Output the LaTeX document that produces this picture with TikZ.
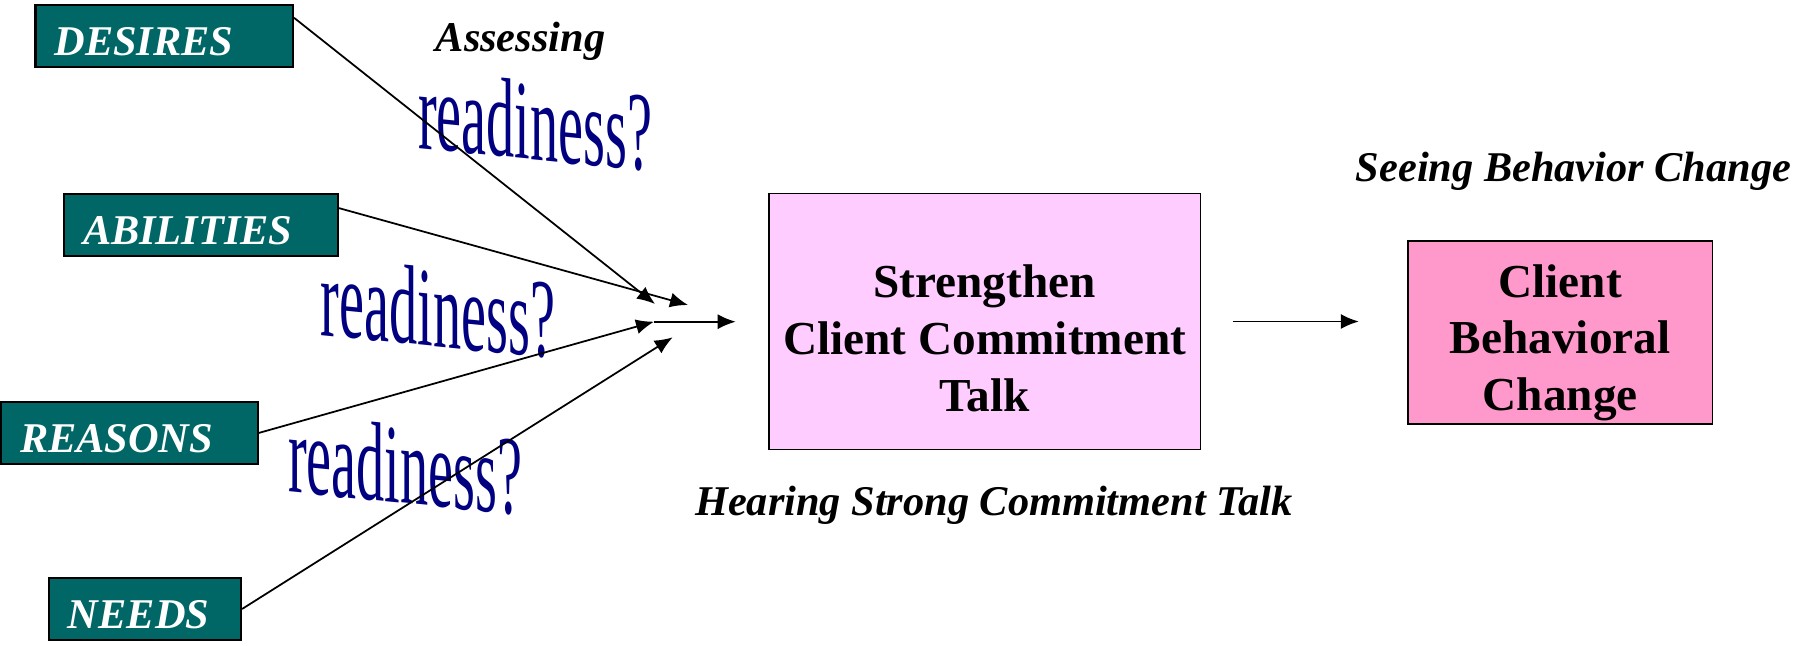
\documentclass[tikz,border=0pt]{standalone}
\usepackage{fontspec}
\setmainfont{Liberation Serif}
\usepackage{tikz}
\usetikzlibrary{arrows.meta}
\definecolor{boxteal}{HTML}{006666}
\definecolor{talkpink}{HTML}{FFCCFF}
\definecolor{changepink}{HTML}{FF99CC}
\definecolor{readnavy}{HTML}{000080}

\begin{document}
\begin{tikzpicture}[
        factor/.style={draw=black, line width=1.2pt, fill=boxteal, text=white, inner xsep=0.38cm, inner ysep=0pt,
            text height=1.01cm, text depth=0.24cm, align=left, font=\fontsize{24.1}{28}\selectfont\bfseries\itshape},
        stage/.style={draw=black, line width=1.1pt},
        stagetext/.style={align=center, font=\fontsize{26.9}{32.3}\selectfont\bfseries},
        caption/.style={anchor=base, font=\fontsize{24.1}{28}\selectfont\bfseries\itshape},
        ready/.style={anchor=base west, inner sep=0pt, text=readnavy, yslant=-0.1, xscale=0.5, transform shape,
            font=\fontsize{64}{66}\selectfont},
        arr/.style={-{Latex[length=0.36cm, width=0.3cm]}, line width=1pt}
    ]
        \useasboundingbox (0,0) rectangle (35.92,12.9);

        \node[factor, text width=4.39cm] (D) at (3.285,12.179) {DESIRES};
        \node[factor, text width=4.72cm] (A) at (4.02,8.398) {ABILITIES};
        \node[factor, text width=4.37cm] (R) at (2.586,4.24) {REASONS};
        \node[factor, text width=3.08cm] (N) at (2.9,0.72) {NEEDS};

        \node[stage, fill=talkpink, minimum width=8.636cm, minimum height=5.12cm] (S) at (19.692,6.47) {};
        \node[stagetext] (St) at (19.692,6.132) {Strengthen\\Client Commitment\\Talk};
        \node[stage, fill=changepink, minimum width=6.094cm, minimum height=3.668cm] (C) at (31.203,6.254) {};
        \node[stagetext] (Ct) at (31.203,6.046) {Client\\Behavioral\\Change};

        \node[caption] (assess) at (10.41,11.866) {Assessing};
        \node[caption] (seeing) at (31.47,9.266) {Seeing Behavior Change};
        \node[caption] (hearing) at (19.875,2.6) {Hearing Strong Commitment Talk};

        \node[ready] (R1) at (8.36,9.94) {readiness?};
        \node[ready] (R2) at (6.414,6.2) {readiness?};
        \node[ready] (R3) at (5.76,3.066) {readiness?};

        \coordinate (tipD) at (13.10,6.82);
        \coordinate (tipA) at (13.76,6.80);
        \coordinate (hub) at (13.08,6.466);
        \coordinate (tipN) at (13.454,6.154);

        \draw[arr] (D.8) -- (tipD);
        \draw[arr] (A.7) -- (tipA);
        \draw[arr] (R.east) -- (hub);
        \draw[arr] (N.east) -- (tipN);
        \draw[arr, shorten >=0.64cm] (hub) -- (hub -| S.west);
        \draw[arr, shorten <=0.63cm, shorten >=0.96cm] (S.east) -- (S.east -| C.west);
    \end{tikzpicture}
\end{document}
